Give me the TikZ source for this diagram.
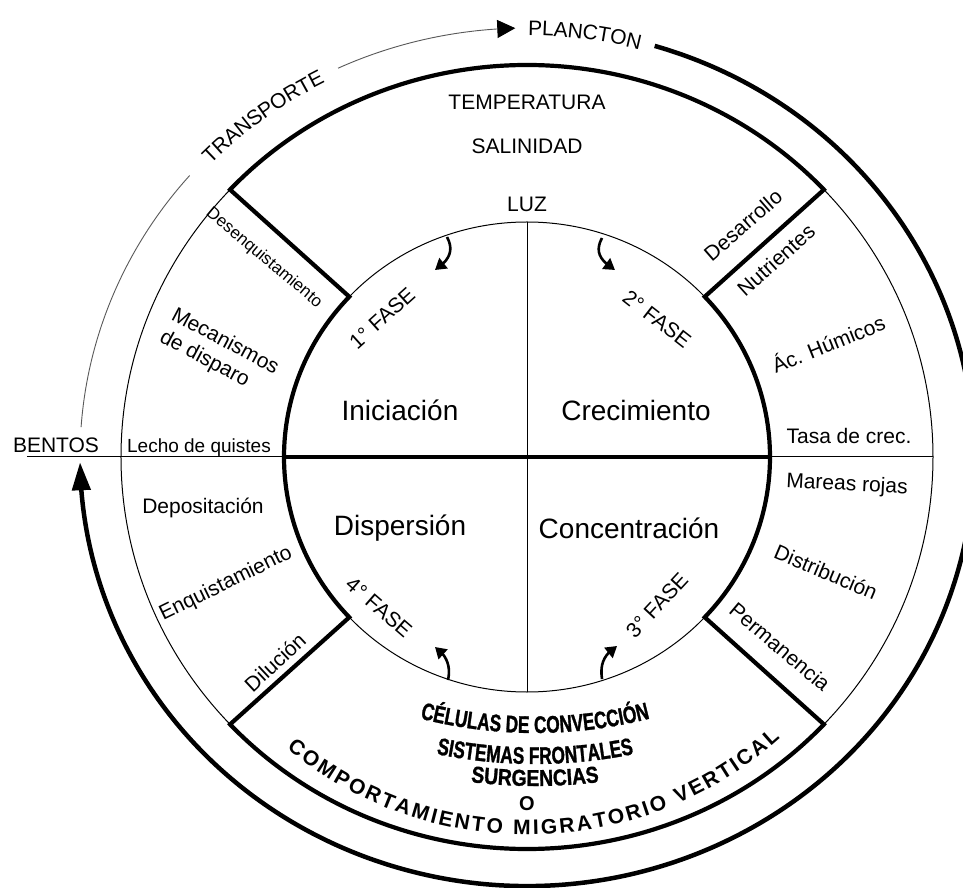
\documentclass[tikz,border=0pt]{standalone}
\usepackage{fontspec}
\setmainfont{Liberation Sans}
\newfontfamily\condA[FakeStretch=0.72,FakeBold=1.2]{Liberation Sans}
\newfontfamily\condB[FakeStretch=0.84,FakeBold=1.2]{Liberation Sans}
\usetikzlibrary{arrows.meta,decorations.text,bending}
\newcommand\setfs[2]{\fontsize{#1}{#2}\selectfont}
\begin{document}
\begin{tikzpicture}[x=1pt,y=1pt,
  heavy/.style={line width=4.2pt, line join=miter},
  fine/.style={line width=1pt},
  faint/.style={line width=0.9pt, black!65},
  lbl/.style={inner sep=0pt, font=\setfs{21}{25}},
  smalllbl/.style={inner sep=0pt, font=\setfs{17}{20}},
  biglbl/.style={inner sep=0pt, font=\setfs{28}{32}},
  curlarrow/.style={line width=2.6pt, -{Triangle[length=11pt,width=13pt]}},
]
\useasboundingbox (-527,-431) rectangle (436,457);
\clip (-527,-431) rectangle (436,457);
\fill[white] (-527,-431) rectangle (436,457);

% thin ellipses
\draw[fine] (0,0) ellipse [x radius=243, y radius=235];
\draw[fine] (0,0) ellipse [x radius=406, y radius=392];
% thick frame
\draw[heavy] (223:243 and 235) arc[start angle=223, end angle=137, x radius=243, y radius=235]
  -- (137:406 and 392) arc[start angle=137, end angle=43, x radius=406, y radius=392]
  -- (43:243 and 235) arc[start angle=43, end angle=-43, x radius=243, y radius=235]
  -- (-43:406 and 392) arc[start angle=-43, end angle=-137, x radius=406, y radius=392]
  -- cycle;

% axes
\coordinate (L0) at (-500,0);
\coordinate (L1) at (-243,0);
\coordinate (R1) at (243,0);
\coordinate (R0) at (406,0);
\coordinate (T1) at (0,235);
\coordinate (B1) at (0,-235);
\draw[heavy] (L1) -- (R1);
\draw[fine] (L0) -- (L1);
\draw[fine] (R1) -- (R0);
\draw[fine] (T1) -- (B1);

% outer cycle
\draw[faint] (176:447 and 429) arc[start angle=176, end angle=139, x radius=447, y radius=429];
\draw[faint, -{Triangle[length=18pt,width=18pt,color=black]}] (115:447 and 429) arc[start angle=115, end angle=91.5, x radius=447, y radius=429];
\draw[line width=4.5pt, -{Triangle[length=28pt,width=18pt]}] (73.4:447 and 429) arc[start angle=73.4, end angle=-179.3, x radius=447, y radius=429];

\path[decorate, decoration={text along path, text align=center, raise=-7.5pt, text={|\setfs{21}{21}|TRANSPORTE}}]
  (141.7:447 and 429) arc[start angle=141.7, end angle=111.7, x radius=447, y radius=429];
\path[decorate, decoration={text along path, text align=center, raise=-7.5pt, text={|\setfs{21}{21}|PLANCTON}}]
  (97:447 and 429) arc[start angle=97, end angle=68, x radius=447, y radius=429];

% bottom band texts
\path[decorate, decoration={text along path, text align={fit to path}, text={|\bfseries\setfs{21}{21}|COMPORTAMIENTO MIGRATORIO VERTICAL}}]
  (230.5:378) arc[start angle=230.5, end angle=312, radius=378];
\path[decorate, decoration={text along path, text align=center, text={|\condA\bfseries\setfs{24}{24}|CÉLULAS DE CONVECCIÓN}}]
  ([shift={(8,186)}]245:462) arc[start angle=245, end angle=295, radius=462];
\path[decorate, decoration={text along path, text align=center, text={|\condA\bfseries\setfs{24}{24}|SISTEMAS FRONTALES}}]
  ([shift={(8,186)}]245:493) arc[start angle=245, end angle=295, radius=493];
\path[decorate, decoration={text along path, text align=center, text={|\condB\bfseries\setfs{23}{23}|SURGENCIAS}}]
  ([shift={(8,186)}]250:515) arc[start angle=250, end angle=290, radius=515];
\node[inner sep=0pt, font=\bfseries\setfs{20}{20}] (oo) at (0,-347) {O};

% top sector
\node[lbl] (temp) at (0,355) {TEMPERATURA};
\node[lbl] (sal) at (0,311) {SALINIDAD};
\node[lbl] (luz) at (0,253) {LUZ};

% left
\node[lbl, anchor=base] (bentos) at (-471,4) {BENTOS};
\node[inner sep=0pt, font=\setfs{19}{22}, anchor=base] (lecho) at (-328,4) {Lecho de quistes};
\node[smalllbl, rotate=-40] (desenq) at (-263,199) {Desenquistamiento};
\node[lbl, rotate=-28, align=left] (mecan) at (-308,104) {Mecanismos\\de disparo};
\node[lbl] (depo) at (-324,-51) {Depositación};
\node[lbl, rotate=26] (enq) at (-301,-127) {Enquistamiento};
\node[lbl, rotate=43] (dil) at (-252,-205) {Dilución};

% right
\node[lbl, rotate=41] (desa) at (216,232) {Desarrollo};
\node[lbl, rotate=42] (nutr) at (249,197) {Nutrientes};
\node[lbl, rotate=22] (acid) at (301,114) {Ác. Húmicos};
\node[lbl, anchor=base] (tasa) at (322,13) {Tasa de crec.};
\node[lbl, rotate=-3] (mareas) at (320,-28) {Mareas rojas};
\node[lbl, rotate=-23] (distr) at (299,-115) {Distribución};
\node[lbl, rotate=-40] (perm) at (253,-190) {Permanencia};

% inner circle
\node[biglbl] (inic) at (-127,47) {Iniciación};
\node[biglbl] (crec) at (109,47) {Crecimiento};
\node[biglbl] (disp) at (-127,-71) {Dispersión};
\node[biglbl] (conc) at (102,-71) {Concentración};
\node[lbl, rotate=42] (f1) at (-145,139) {1° FASE};
\node[lbl, rotate=-38] (f2) at (130,138) {2° FASE};
\node[lbl, rotate=-41] (f4) at (-148,-150) {4° FASE};
\node[lbl, rotate=47] (f3) at (130,-148) {3° FASE};

% curled arrows
\draw[curlarrow] (-80,220) .. controls (-73,207) and (-77,197) .. (-92,187);
\draw[curlarrow] (75,219) .. controls (68,206) and (72,197) .. (88,187);
\draw[curlarrow] (-79,-223) .. controls (-76,-210) and (-80,-198) .. (-92,-190);
\draw[curlarrow] (75,-222) .. controls (73,-208) and (76,-198) .. (90,-189);
\end{tikzpicture}
\end{document}
